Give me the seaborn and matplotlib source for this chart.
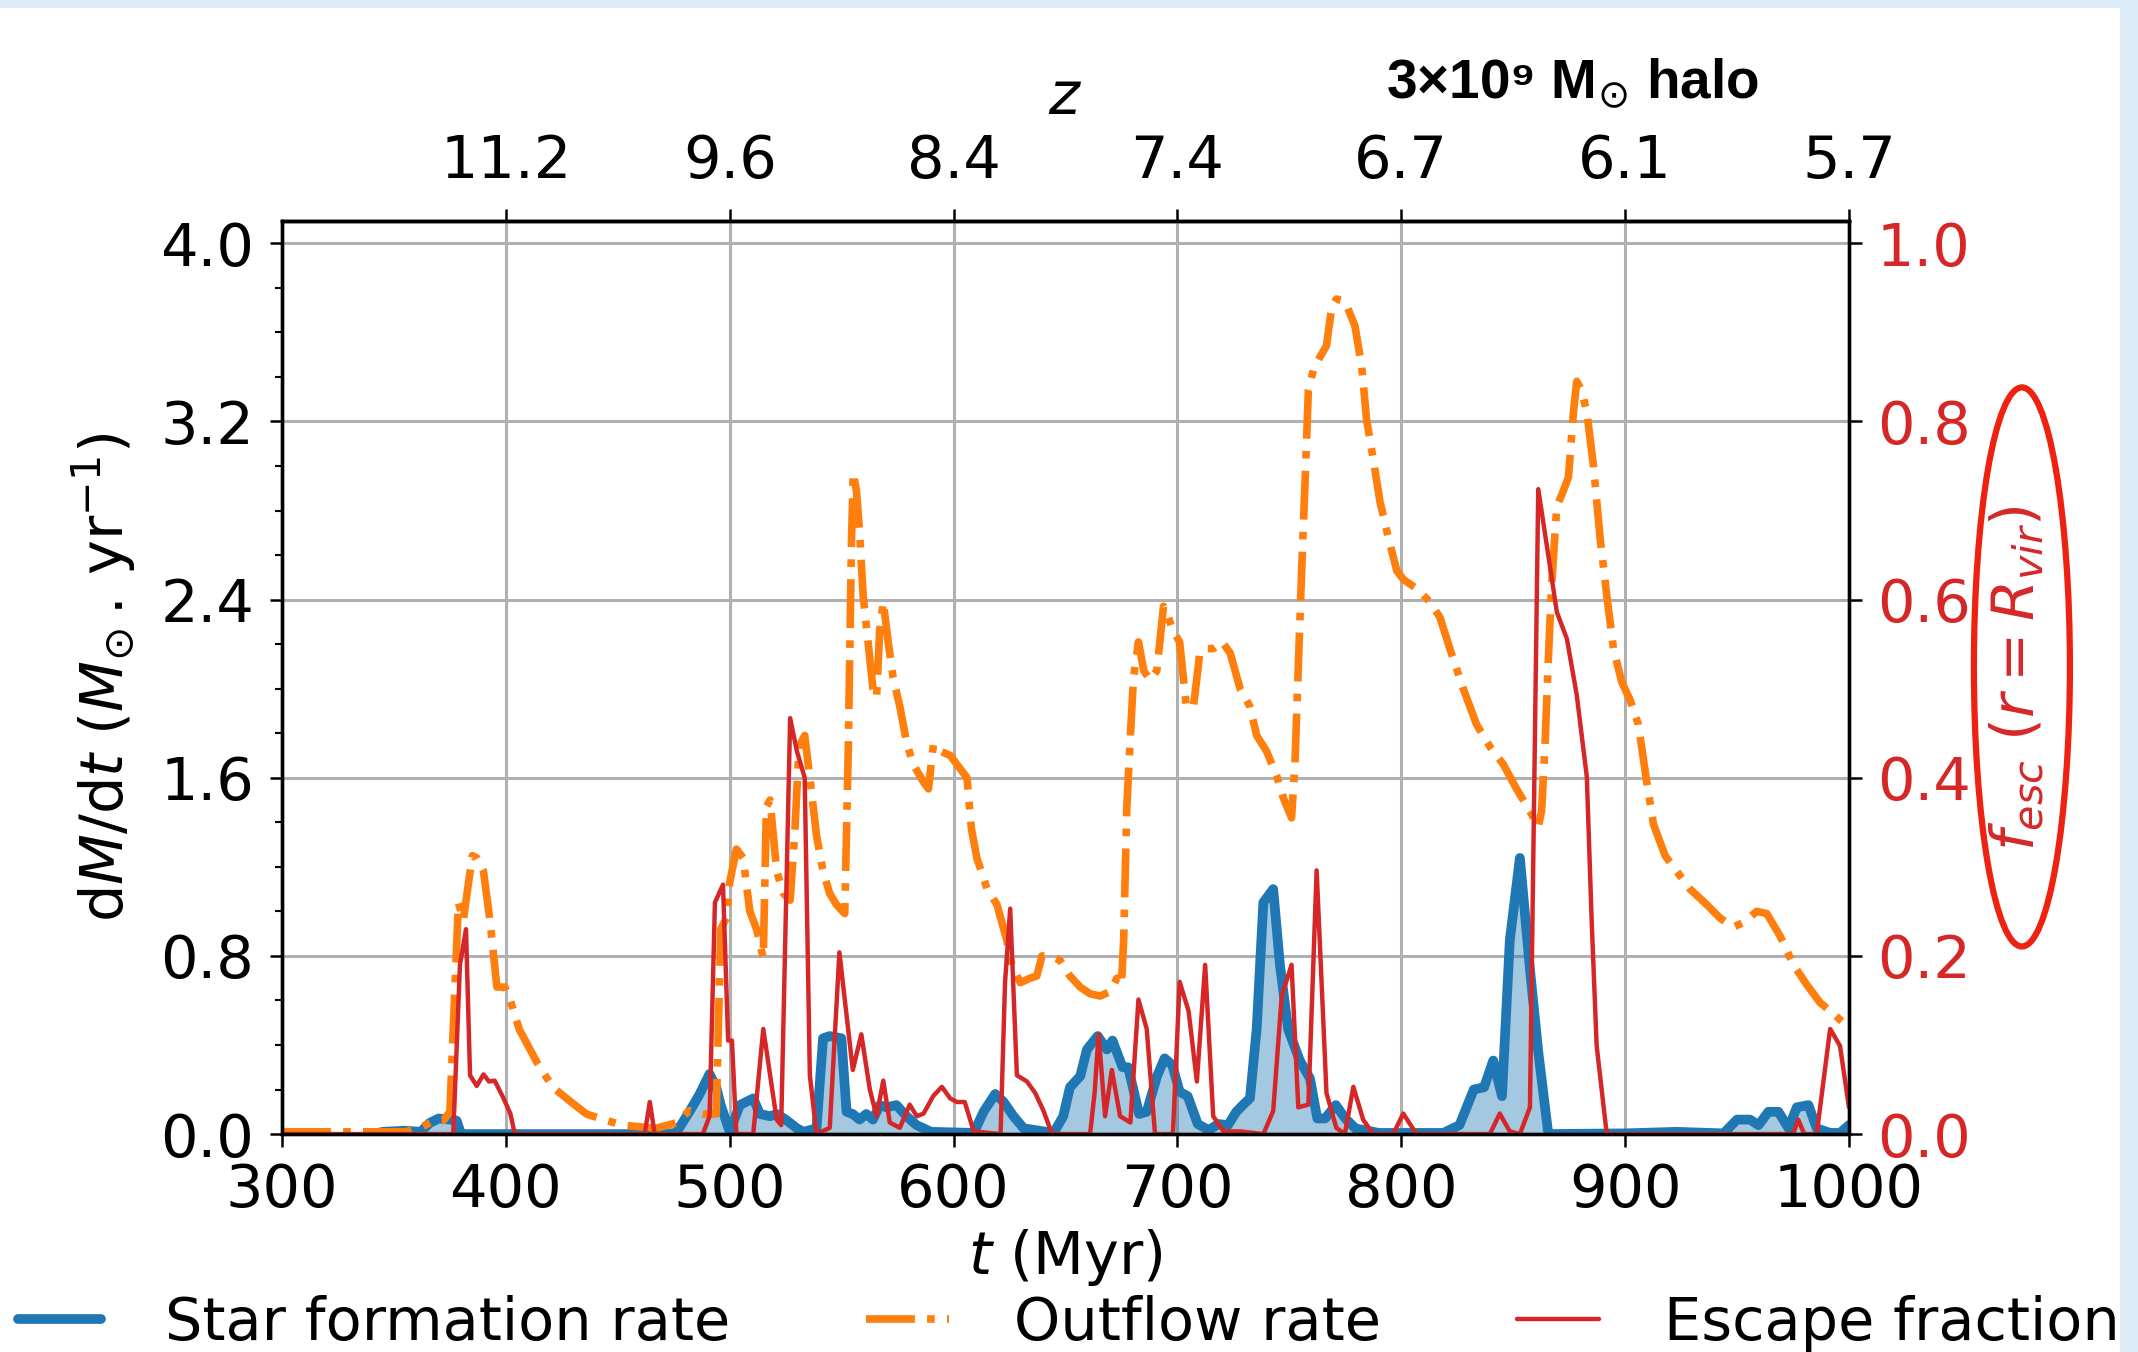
import matplotlib
matplotlib.use("Agg")
import matplotlib.pyplot as plt
import seaborn as sns
import pandas as pd
from matplotlib.patches import Ellipse, Rectangle
from matplotlib.lines import Line2D
from matplotlib.ticker import MultipleLocator

# ---------------- data ----------------
t_sfr = [341, 345, 355, 362, 366, 370, 375, 378, 380, 420, 470, 476, 482, 486.6, 491, 494, 496, 500,
         504.5, 507.5, 510.5, 513.5, 518, 521, 525, 530, 533, 538.8, 541.7, 544.7, 549.9, 552.2,
         555, 558, 561, 564, 567, 570, 574.5, 579, 583.5, 590, 609, 613.4, 618.6, 622.3, 626.8,
         631.3, 644.7, 649, 652, 656.6, 659.6, 664.4, 668.5, 671, 675.5, 678, 682.9, 686.3, 690.9,
         694.3, 697.7, 701, 704.6, 709.1, 714, 718.3, 722.6, 726.3, 729.7, 732.4, 735.4, 738.4,
         742.8, 745.8, 749.5, 754.7, 759.2, 762.5, 766, 770.8, 775, 779.6, 790, 818.8, 826, 832.4,
         837, 841.1, 845, 848.5, 853, 857.5, 861.2, 865.7, 900, 923, 944, 950, 955.8, 959.6, 964,
         968.5, 973, 976.7, 981.9, 985.6, 991.6, 996, 1000]
sfr = [0.0, 0.01, 0.015, 0.01, 0.05, 0.07, 0.065, 0.06, 0.0, 0.0, 0.0, 0.005, 0.1, 0.18, 0.27, 0.21, 0.13, 0.01,
       0.13, 0.145, 0.16, 0.09, 0.08, 0.09, 0.065, 0.026, 0.01, 0.026, 0.43, 0.44, 0.43, 0.1,
       0.09, 0.065, 0.09, 0.065, 0.13, 0.12, 0.13, 0.08, 0.04, 0.01, 0.005, 0.1, 0.18, 0.145, 0.08,
       0.026, 0.005, 0.08, 0.21, 0.26, 0.38, 0.44, 0.38, 0.42, 0.3, 0.3, 0.09, 0.1, 0.26,
       0.34, 0.31, 0.19, 0.17, 0.045, 0.018, 0.045, 0.04, 0.1, 0.135, 0.16, 0.47, 1.04,
       1.1, 0.76, 0.47, 0.33, 0.25, 0.07, 0.07, 0.13, 0.07, 0.025, 0.005, 0.005, 0.04, 0.2,
       0.21, 0.33, 0.17, 0.87, 1.24, 0.74, 0.37, 0.0, 0.003, 0.01, 0.003, 0.065, 0.065, 0.04, 0.1,
       0.1, 0.026, 0.12, 0.13, 0.026, 0.005, 0.005, 0.04]

t_out = [300, 330, 355, 362, 368, 372, 375, 378.8, 381, 385, 387, 390, 393, 396, 399.6, 402, 406, 414,
         421, 429, 436, 442, 452, 467, 476, 482, 488, 494, 496, 498.5, 500, 503, 506, 509, 512, 515,
         516.4, 518, 521, 524, 527, 529, 531, 533.5, 535.8, 538.8, 541.7, 544.7, 547.7, 551.4, 553,
         554.4, 555.2, 556.6, 558, 559.6, 561.8, 564, 565.6, 567, 568.6, 570.8, 573, 576, 579, 582,
         586.6, 588.8, 591, 594, 598.5, 603, 606, 608, 610.4, 615, 619.4, 623.8, 626, 629.8, 634.2,
         637.2, 639.5, 643, 647.6, 652, 656.6, 661, 665.5, 670, 673, 675, 676, 677.4, 679, 680.4,
         682.6, 685, 687.8, 690.8, 693.8, 696, 698, 701, 704, 707.2, 710, 713, 716, 720, 723.6, 728,
         732.4, 735.4, 739.8, 744.3, 747.3, 751, 752.5, 754, 755.5, 757, 758.5, 760.7, 763.7, 766.6,
         768.9, 771, 774.8, 779.3, 782.3, 784.5, 787.5, 790.5, 794.2, 798, 801, 806.8, 812.8, 817.3,
         821.7, 827.7, 833.6, 839.6, 845.6, 851.5, 857.5, 861.2, 862.7, 864.2, 865.7, 867.2, 869.5,
         871.7, 874.7, 876.9, 878.4, 880.6, 882.9, 885.9, 888.8, 891.8, 894.8, 898.5, 902.2, 905.9,
         909.7, 912.7, 917.9, 923.1, 929, 936.5, 942.4, 948.4, 952.9, 958.8, 963.3, 969.2, 975.2,
         981.2, 987.1, 993.1, 997.5, 1000]
outflow = [0.01, 0.01, 0.01, 0.03, 0.06, 0.06, 0.1, 1.04, 0.96, 1.25, 1.24, 1.18, 0.95, 0.66, 0.66, 0.6, 0.47, 0.32,
           0.21, 0.145, 0.09, 0.07, 0.04, 0.026, 0.05, 0.105, 0.09, 0.09, 0.92, 0.97, 1.13, 1.28, 1.24, 1.0, 0.92, 0.79,
           1.47, 1.5, 1.18, 1.08, 1.05, 1.34, 1.74, 1.79, 1.6, 1.34, 1.18, 1.08, 1.03, 0.99, 1.74,
           2.66, 2.97, 2.89, 2.71, 2.42, 2.21, 2.0, 1.96, 2.26, 2.39, 2.21, 2.05, 1.92, 1.76, 1.66,
           1.58, 1.55, 1.75, 1.72, 1.7, 1.64, 1.6, 1.37, 1.24, 1.1, 1.03, 0.87, 0.76, 0.68, 0.7,
           0.71, 0.8, 0.8, 0.78, 0.71, 0.66, 0.63, 0.62, 0.64, 0.7, 0.67, 0.87, 1.47, 1.79, 2.05,
           2.21, 2.08, 2.04, 2.08, 2.37, 2.32, 2.26, 2.21, 1.92, 1.92, 2.16, 2.18, 2.18, 2.21, 2.16, 2.0,
           1.92, 1.79, 1.72, 1.61, 1.51, 1.42, 1.66, 2.1, 2.53, 2.92, 3.34, 3.43, 3.49, 3.54,
           3.71, 3.75, 3.74, 3.63, 3.45, 3.21, 3.03, 2.84, 2.68, 2.53, 2.49, 2.45, 2.39, 2.32,
           2.18, 2.0, 1.84, 1.74, 1.66, 1.55, 1.45, 1.38, 1.45, 1.74, 2.13, 2.47, 2.82,
           2.87, 2.95, 3.24, 3.38, 3.34, 3.24, 3.0, 2.68, 2.42, 2.18, 2.03, 1.95, 1.84,
           1.58, 1.39, 1.25, 1.18, 1.1, 1.03, 0.97, 0.93, 0.95, 1.0, 0.99, 0.89, 0.76,
           0.67, 0.59, 0.54, 0.5, 0.48]

t_fesc = [300, 376.5, 379.5, 382.2, 384, 387, 390, 392.5, 395, 399, 402, 404, 462, 464.3, 466.5, 488, 491,
          493.4, 497, 499.3, 501, 503, 510.5, 515, 521, 523, 527, 530, 533.5, 535.8, 538.8, 544.7, 549,
          551.4, 555, 558.8, 562.6, 565.6, 568.6, 571.5, 576, 580.4, 583.6, 586.6, 591, 594.8, 598.5,
          601.5, 605, 609, 621, 623, 625.3, 628.3, 632.8, 636.5, 640.2, 644, 661, 663, 664.8, 667.7,
          670.7, 674.4, 679, 682.6, 686.3, 690, 698, 701, 705, 708.7, 712.4, 716, 720.6, 728, 738.4,
          742.8, 746.6, 751, 754, 758.5, 762.2, 766.6, 771, 774.8, 778.6, 783, 787.5, 796.4, 800.9,
          806.8, 839.6, 844, 848.5, 853, 857.5, 861.2, 866.4, 869.5, 874, 878.4, 882.9, 885.1, 887.3,
          891.8, 975, 977.4, 980, 985.6, 991.6, 996, 1000]
fesc = [0.0, 0.0, 0.19, 0.23, 0.066, 0.054, 0.067, 0.059, 0.06, 0.04, 0.023, 0.0, 0.0, 0.036, 0.0, 0.0, 0.02,
        0.26, 0.28, 0.105, 0.105, 0.0, 0.0, 0.118, 0.016, 0.01, 0.467, 0.43, 0.40, 0.066, 0.0, 0.007, 0.204,
        0.151, 0.072, 0.112, 0.05, 0.02, 0.06, 0.013, 0.007, 0.033, 0.02, 0.023, 0.043, 0.053, 0.04,
        0.036, 0.036, 0.003, 0.0, 0.17, 0.253, 0.066, 0.059, 0.046, 0.026, 0.0, 0.0, 0.046, 0.112, 0.02,
        0.072, 0.02, 0.013, 0.151, 0.118, 0.0, 0.0, 0.171, 0.138, 0.059, 0.19, 0.02, 0.003, 0.003, 0.0,
        0.026, 0.155, 0.19, 0.03, 0.033, 0.296, 0.046, 0.007, 0.0, 0.053, 0.016, 0.0, 0.0, 0.023,
        0.0, 0.0, 0.023, 0.003, 0.0, 0.03, 0.724, 0.638, 0.586, 0.556, 0.493, 0.401, 0.237, 0.099,
        0.0, 0.0, 0.016, 0.0, 0.0, 0.118, 0.099, 0.03]

x_ticks = [300, 400, 500, 600, 700, 800, 900, 1000]
left_yticks = [0.0, 0.8, 1.6, 2.4, 3.2, 4.0]
right_yticks = [0.0, 0.2, 0.4, 0.6, 0.8, 1.0]
z_tick_t = [400, 500, 600, 700, 800, 900, 1000]
z_labels = ["11.2", "9.6", "8.4", "7.4", "6.7", "6.1", "5.7"]
legend_labels = ["Star formation rate", "Outflow rate", "Escape fraction"]

# ---------------- style ----------------
sns.set_style("ticks")
FS = 42.5
plt.rcParams.update({
    "font.family": ["DejaVu Sans"],
    "font.size": FS,
    "text.color": "black",
    "axes.labelcolor": "black",
    "axes.edgecolor": "black",
    "xtick.color": "black",
    "ytick.color": "black",
    "axes.linewidth": 2.4,
    "xtick.major.size": 9, "xtick.major.width": 1.8, "xtick.major.pad": 11,
    "ytick.major.size": 9, "ytick.major.width": 1.8, "ytick.major.pad": 11,
    "ytick.minor.size": 5, "ytick.minor.width": 1.5,
    "xtick.direction": "out", "ytick.direction": "out",
    "mathtext.fontset": "dejavusans",
})

BLUE, ORANGE, RED = "#1f77b4", "#ff7f0e", "#d62728"
LW_SFR, LW_OUT, LW_ESC = 7.0, 5.5, 3.2

fig = plt.figure(figsize=(21.38, 13.52), dpi=100)
fig.patch.set_facecolor("white")
ax = fig.add_axes([0.1319, 0.1612, 0.7329, 0.6753])

df_sfr = pd.DataFrame({"t": t_sfr, "v": sfr})
df_out = pd.DataFrame({"t": t_out, "v": outflow})
df_esc = pd.DataFrame({"t": t_fesc, "v": fesc})

ax.fill_between(df_sfr["t"], df_sfr["v"], 0, color=BLUE, alpha=0.4, lw=0, zorder=1.5)
sns.lineplot(data=df_sfr, x="t", y="v", ax=ax, color=BLUE, lw=LW_SFR, errorbar=None, legend=False)
sns.lineplot(data=df_out, x="t", y="v", ax=ax, color=ORANGE, lw=LW_OUT, linestyle="-.",
             errorbar=None, legend=False)

ax.set_xlim(300, 1000)
ax.set_ylim(0, 4.1)
ax.set_xticks(x_ticks)
ax.set_xticklabels([str(v) for v in x_ticks])
ax.set_yticks(left_yticks)
ax.set_yticklabels([f"{v:.1f}" for v in left_yticks])
ax.yaxis.set_minor_locator(MultipleLocator(0.2))
ax.grid(True, which="major", color="#b0b0b0", lw=2.2)
ax.set_xlabel("$t$ (Myr)", labelpad=6)
ax.set_ylabel(r"d$M$/d$t$ ($M_{\odot}\,.\,$yr$^{-1}$)", labelpad=16)
ax.tick_params(axis="both", which="both", top=False, right=False)

ax2 = ax.twinx()
sns.lineplot(data=df_esc, x="t", y="v", ax=ax2, color=RED, lw=LW_ESC, errorbar=None, legend=False)
ax2.set_ylim(0, 1.025)
ax2.set_yticks(right_yticks)
ax2.set_yticklabels([f"{v:.1f}" for v in right_yticks])
ax2.tick_params(axis="y", colors="black", labelsize=FS)
for lab in ax2.get_yticklabels():
    lab.set_color(RED)
ax2.set_ylabel(r"$f_{esc}$ $(r = R_{vir})$", color=RED, labelpad=12)
ax2.set_xlabel("")
for sp in ax2.spines.values():
    sp.set_linewidth(2.4)

sec = ax.secondary_xaxis("top")
sec.set_xticks(z_tick_t)
sec.set_xticklabels(z_labels)
sec.tick_params(axis="x", length=9, width=1.8, pad=13)
sec.set_xlabel("$z$", labelpad=14)
sec.spines["top"].set_linewidth(2.4)

# title-like annotation
fig.text(0.7355, 0.9275, "3×10⁹ M$_{\\odot}$ halo", fontsize=39.5, fontweight="bold",
         family=["Liberation Sans", "DejaVu Sans"], ha="center", va="baseline")

# hand-drawn ellipse around the right label
fig.add_artist(Ellipse((0.9457, 0.5067), 0.0449, 0.4135, transform=fig.transFigure,
                       fill=False, ec="#ee2211", lw=4.5, zorder=10))

# light blue background strips (screenshot border)
fig.add_artist(Rectangle((0, 1 - 8 / 1352), 1, 8 / 1352, transform=fig.transFigure,
                         color="#dcecf9", zorder=-5, lw=0))
fig.add_artist(Rectangle((2120 / 2138, 0), 18 / 2138, 1, transform=fig.transFigure,
                         color="#dcecf9", zorder=-5, lw=0))

handles = [Line2D([], [], color=BLUE, lw=LW_SFR),
           Line2D([], [], color=ORANGE, lw=LW_OUT, linestyle="-."),
           Line2D([], [], color=RED, lw=LW_ESC)]
fig.legend(handles, legend_labels, loc="center", bbox_to_anchor=(0.5, 0.0214), ncol=3,
           frameon=False, handlelength=1.4, handletextpad=1.1, columnspacing=2.3, fontsize=FS)

fig.savefig("out.png", dpi=100)
